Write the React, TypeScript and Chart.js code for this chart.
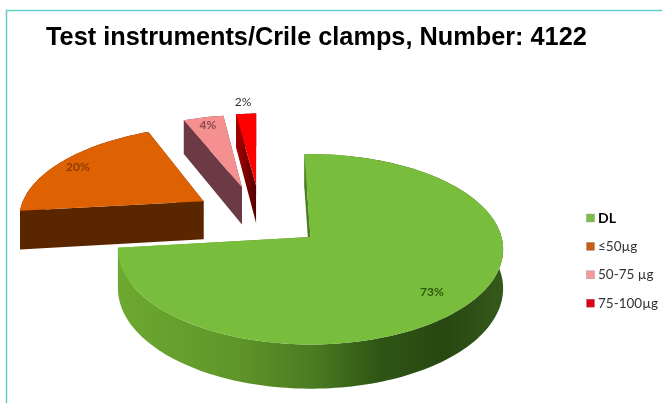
import React, { useEffect, useRef } from "react";
import { Chart, registerables } from "chart.js";

Chart.register(...registerables);

const categories = ["DL", "≤50µg", "50-75 µg", "75-100µg"];
const shares = [73, 20, 4, 2];
const titleText = "Test instruments/Crile clamps, Number: 4122";

const topColors = ["#78BD3B", "#DF6202", "#F4908F", "#FF0000"];
const keyColors = ["#7CC04A", "#C95C14", "#F49A9A", "#E0001A"];
const FRAME = "#62CFC6";

// Ground-plane layout of the exploded slices: apex offset, radius and thickness.
const apexShift: [number, number][] = [[1.5, 0], [-111, -77], [-72, -109], [-57, -113]];
const sliceRadius = [191, 190, 191, 191];
const sliceDepth = [38.5, 40, 40, 40];
const percentAt: [number, number][] = [[432, 292], [78, 167], [208, 125], [243, 102]];

const ORIGIN_X = 309;
const ORIGIN_Y = 237;
const TILT = 0.49;
const VANISH = 0.000676;

type Pt = [number, number];

// Projects a ground-plane point onto the canvas; z lowers it to the underside of the pie.
function project(X: number, Y: number, z = 0): Pt {
  const w = 1 - VANISH * Y;
  return [ORIGIN_X + X / w, ORIGIN_Y + (TILT * Y + z) / w];
}

function rimPoints(arc: any, i: number): Pt[] {
  const [ox, oy] = apexShift[i];
  const r = sliceRadius[i];
  const pts: Pt[] = [];
  const steps = Math.max(4, Math.ceil((arc.endAngle - arc.startAngle) * 40));
  for (let k = 0; k <= steps; k++) {
    const a = arc.startAngle + ((arc.endAngle - arc.startAngle) * k) / steps;
    pts.push([ox + r * Math.cos(a), oy + r * Math.sin(a)]);
  }
  return pts;
}

function tracePolygon(ctx: CanvasRenderingContext2D, pts: Pt[]) {
  ctx.beginPath();
  pts.forEach(([x, y], n) => (n ? ctx.lineTo(x, y) : ctx.moveTo(x, y)));
  ctx.closePath();
}

function horizontal(ctx: CanvasRenderingContext2D, x0: number, x1: number, stops: [number, string][]) {
  const g = ctx.createLinearGradient(x0, 0, x1, 0);
  stops.forEach(([o, c]) => g.addColorStop(o, c));
  return g;
}

const pie3d = {
  id: "pie3d",
  beforeDraw(chart: any) {
    const { ctx } = chart;
    ctx.save();
    ctx.strokeStyle = FRAME;
    ctx.lineWidth = 1.5;
    ctx.beginPath();
    ctx.moveTo(6.5, 403);
    ctx.lineTo(6.5, 10.5);
    ctx.lineTo(662, 10.5);
    ctx.stroke();
    ctx.restore();
  },
  // The slices are redrawn below as tilted solids from the arc geometry.
  beforeDatasetDraw(chart: any) {
    const { ctx } = chart;
    const arcs = chart.getDatasetMeta(0).data;
    const sideFill = [
      horizontal(ctx, 120, 503, [
        [0, "#6DA931"], [0.3, "#5F9629"], [0.5, "#4B7C21"], [0.68, "#2F5515"], [0.85, "#274811"], [1, "#36591B"],
      ]),
      "#5A2600",
      "#6B3A45",
      horizontal(ctx, 234, 257, [[0, "#B00000"], [0.5, "#800000"], [1, "#4E0000"]]),
    ];
    ctx.save();
    for (const i of [3, 2, 1, 0]) {
      const rim = rimPoints(arcs[i], i);
      const apex = apexShift[i];
      const depth = sliceDepth[i];
      ctx.fillStyle = sideFill[i];

      // Curved outer wall as a single band, then the two flat cut faces.
      const upper = rim.map(([X, Y]) => project(X, Y));
      const lower = rim.map(([X, Y]) => project(X, Y, depth));
      tracePolygon(ctx, [...upper, ...lower.reverse()]);
      ctx.fill();
      for (const edge of [rim[0], rim[rim.length - 1]]) {
        tracePolygon(ctx, [
          project(apex[0], apex[1]),
          project(edge[0], edge[1]),
          project(edge[0], edge[1], depth),
          project(apex[0], apex[1], depth),
        ]);
        ctx.fill();
      }

      ctx.fillStyle = topColors[i];
      tracePolygon(ctx, [project(apex[0], apex[1]), ...upper]);
      ctx.fill();
    }
    ctx.restore();
    return false;
  },
  afterDraw(chart: any) {
    const { ctx } = chart;
    const values = chart.data.datasets[0].data;
    const inkColors = ["#2E5A12", "#8A3C06", "#8A4A50", "#333333"];
    ctx.save();
    ctx.textAlign = "center";
    ctx.textBaseline = "middle";
    values.forEach((v: number, i: number) => {
      ctx.font = `${i === 3 ? "" : "bold "}12px Lato`;
      ctx.fillStyle = inkColors[i];
      ctx.fillText(`${v}%`, percentAt[i][0], percentAt[i][1]);
    });

    // Colour key on the right; the first entry is set in bold black.
    ctx.textAlign = "left";
    chart.data.labels.forEach((label: string, i: number) => {
      const y = 218 + i * 28.4;
      ctx.fillStyle = keyColors[i];
      ctx.fillRect(586.5, y - 4, 8, 8);
      ctx.strokeStyle = "rgba(120,120,120,0.6)";
      ctx.lineWidth = 0.5;
      ctx.strokeRect(586.5, y - 4, 8, 8);
      ctx.font = i === 0 ? "bold 14px Lato" : "13.5px Lato";
      ctx.fillStyle = i === 0 ? "#000000" : "#333333";
      ctx.fillText(label, 598, y);
    });
    ctx.restore();
  },
};

export default function App() {
  const ref = useRef<HTMLCanvasElement>(null);
  useEffect(() => {
    document.body.style.margin = "0";
    const chart = new Chart(ref.current!, {
      type: "pie",
      data: {
        labels: categories,
        datasets: [{ data: shares, backgroundColor: topColors, borderWidth: 0 }],
      },
      options: {
        animation: false,
        responsive: false,
        rotation: -2,
        layout: { padding: { left: 46, top: 23 } },
        plugins: {
          legend: { display: false },
          tooltip: { enabled: false },
          title: {
            display: true,
            text: titleText,
            align: "start",
            color: "#000000",
            font: { family: "'Liberation Sans'", size: 25.3, weight: "bold" },
            padding: { top: 0, bottom: 0 },
          },
        },
      },
      plugins: [pie3d],
    });
    return () => chart.destroy();
  }, []);
  return <canvas ref={ref} width={662} height={403} style={{ display: "block", background: "#fff" }} />;
}
